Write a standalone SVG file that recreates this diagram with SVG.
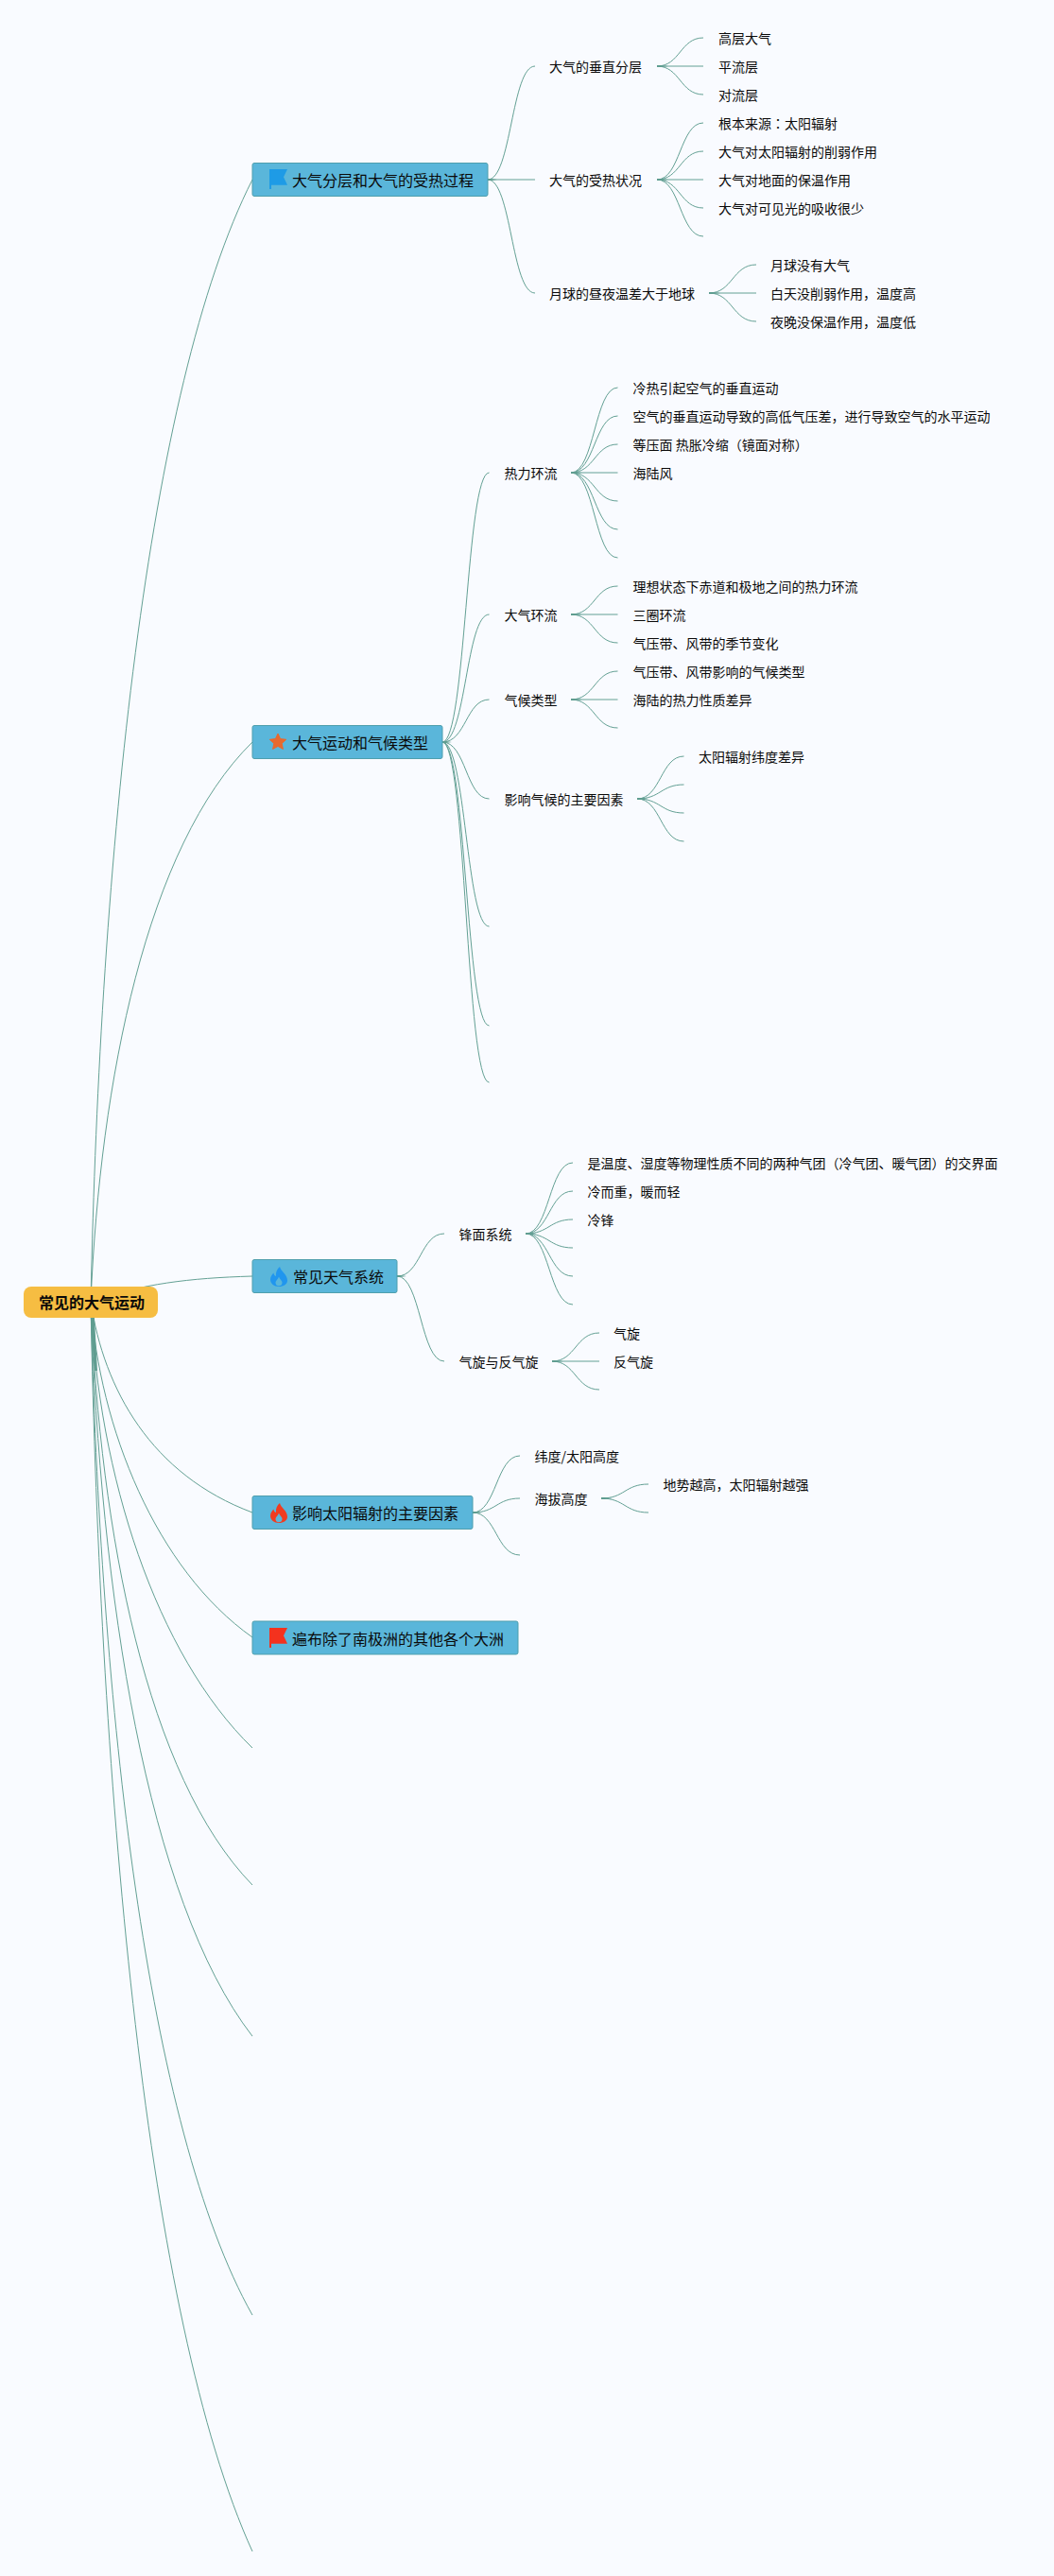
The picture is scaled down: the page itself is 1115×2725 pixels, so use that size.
<svg xmlns="http://www.w3.org/2000/svg" xmlns:xlink="http://www.w3.org/1999/xlink" width="1115" height="2725" viewBox="0 0 1115 2725">
<style>
text{font-family:"Noto Sans CJK SC","Noto Sans",sans-serif;fill:#0a0a0a;font-size:14px}
.main{font-size:16px}
.root{font-size:16px;font-weight:700}
.box{fill:#5ab6da;stroke:#4f9fad;stroke-width:1}
#connectors path{fill:none;stroke:#63a094;stroke-width:1}
#connectors path.taper{fill:#5f9d90;stroke:none}
</style>
<defs>
<path id="flame" fill-rule="evenodd" d="M296,0C297,5 304,8 304,14.500C304,18.500 300,21 295,21C290,21 286,18 286,13.500C286,10.500 288,8 289.500,6.500C289.500,8.500 290.500,9.500 292,10C291.500,6 293,2.500 296,0ZM295,10.500C296,13.500 298.500,14.500 298.500,17C298.500,19 297,20.300 295,20.300C293,20.300 291.500,19 291.500,17C291.500,14.500 294,13.500 295,10.500Z"/>
<path id="flag" d="M285,0H304L300,8.300L304,16.700H287V21H285Z"/>
</defs>
<rect width="1115" height="2725" fill="#f9fbff"/>
<g id="connectors">
<path d="M96,1377C106,908 155,411 267,190"/>
<path d="M96,1377C106,1143 155,895 267,785"/>
<path d="M96,1377C150,1358 200,1352 267,1350"/>
<path d="M96,1377C110,1470 160,1560 267,1600"/>
<path d="M96,1377C105,1510 165,1660 267,1732"/>
<path d="M96,1377C104,1560 165,1750 267,1849"/>
<path d="M96,1377C106,1621 155,1879 267,1994"/>
<path d="M96,1377C106,1684 155,2009 267,2154"/>
<path d="M96,1377C106,1800 155,2250 267,2449"/>
<path d="M96,1377C106,1899 155,2453 267,2699"/>
<path class="taper" d="M94.500,1377H99L103,1450H100Z"/>
<path class="taper" d="M94.500,1377H99L98,1361H95Z"/>
<path d="M516,190C541,190 541,70 566,70"/>
<path d="M516,190L566,190"/>
<path d="M516,190C541,190 541,310 566,310"/>
<path d="M695,70C719.500,70 719.500,40 744,40"/>
<path d="M695,70L744,70"/>
<path d="M695,70C719.500,70 719.500,100 744,100"/>
<path d="M695,190C719.500,190 719.500,130 744,130"/>
<path d="M695,190C719.500,190 719.500,160 744,160"/>
<path d="M695,190L744,190"/>
<path d="M695,190C719.500,190 719.500,220 744,220"/>
<path d="M695,190C719.500,190 719.500,250 744,250"/>
<path d="M750,310C775,310 775,280 800,280"/>
<path d="M750,310L800,310"/>
<path d="M750,310C775,310 775,340 800,340"/>
<path d="M468,785C493,785 493,500 517.500,500"/>
<path d="M468,785C493,785 493,650 517.500,650"/>
<path d="M468,785C493,785 493,740 517.500,740"/>
<path d="M468,785C493,785 493,845 517.500,845"/>
<path d="M468,785C493,785 493,980 517.500,980"/>
<path d="M468,785C493,785 493,1085 517.500,1085"/>
<path d="M468,785C493,785 493,1145 517.500,1145"/>
<path d="M604,500C629,500 629,410 653.500,410"/>
<path d="M604,500C629,500 629,440 653.500,440"/>
<path d="M604,500C629,500 629,470 653.500,470"/>
<path d="M604,500L653.500,500"/>
<path d="M604,500C629,500 629,530 653.500,530"/>
<path d="M604,500C629,500 629,560 653.500,560"/>
<path d="M604,500C629,500 629,590 653.500,590"/>
<path d="M604,650C629,650 629,620 653.500,620"/>
<path d="M604,650L653.500,650"/>
<path d="M604,650C629,650 629,680 653.500,680"/>
<path d="M604,740C629,740 629,710 653.500,710"/>
<path d="M604,740L653.500,740"/>
<path d="M604,740C629,740 629,770 653.500,770"/>
<path d="M674,845C699,845 699,800 723.500,800"/>
<path d="M674,845C699,845 699,830 723.500,830"/>
<path d="M674,845C699,845 699,860 723.500,860"/>
<path d="M674,845C699,845 699,890 723.500,890"/>
<path d="M420,1350C445,1350 445,1305 470,1305"/>
<path d="M420,1350C445,1350 445,1440 470,1440"/>
<path d="M556,1305C581,1305 581,1230 606,1230"/>
<path d="M556,1305C581,1305 581,1260 606,1260"/>
<path d="M556,1305C581,1305 581,1290 606,1290"/>
<path d="M556,1305C581,1305 581,1320 606,1320"/>
<path d="M556,1305C581,1305 581,1350 606,1350"/>
<path d="M556,1305C581,1305 581,1380 606,1380"/>
<path d="M584,1440C609,1440 609,1410 634,1410"/>
<path d="M584,1440L634,1440"/>
<path d="M584,1440C609,1440 609,1470 634,1470"/>
<path d="M500,1600C525,1600 525,1540 550,1540"/>
<path d="M500,1600C525,1600 525,1585 550,1585"/>
<path d="M500,1600C525,1600 525,1645 550,1645"/>
<path d="M636,1585C661,1585 661,1570 686,1570"/>
<path d="M636,1585C661,1585 661,1600 686,1600"/>
<path class="taper" d="M695,69H699L707,70L699,71H695Z"/>
<path class="taper" d="M695,189H699L707,190L699,191H695Z"/>
<path class="taper" d="M750,309H754L762,310L754,311H750Z"/>
<path class="taper" d="M604,499H608L616,500L608,501H604Z"/>
<path class="taper" d="M604,649H608L616,650L608,651H604Z"/>
<path class="taper" d="M604,739H608L616,740L608,741H604Z"/>
<path class="taper" d="M674,844H678L686,845L678,846H674Z"/>
<path class="taper" d="M556,1304H560L568,1305L560,1306H556Z"/>
<path class="taper" d="M584,1439H588L596,1440L588,1441H584Z"/>
<path class="taper" d="M636,1584H640L648,1585L640,1586H636Z"/>
<path class="taper" d="M516,189H519L526,190L519,191H516Z"/>
<path class="taper" d="M468,784H471L478,785L471,786H468Z"/>
<path class="taper" d="M420,1349H423L430,1350L423,1351H420Z"/>
<path class="taper" d="M500,1599H503L510,1600L503,1601H500Z"/>
</g>
<g id="root"><rect x="25" y="1361" width="142" height="33" rx="8" fill="#f6bd42"/><text class="root" x="41" y="1384">常见的大气运动</text></g>
<g id="n1"><rect class="box" x="267" y="172.500" width="249" height="35" rx="2"/><use xlink:href="#flag" href="#flag" y="179" fill="#1e9be6"/><text class="main" x="309" y="197">大气分层和大气的受热过程</text></g>
<g id="n2"><rect class="box" x="267" y="767.500" width="201" height="35" rx="2"/><path d="M294,776L296.600,781.600L302.700,782.300L298.200,786.400L299.400,792.400L294,789.400L288.600,792.400L289.800,786.400L285.300,782.300L291.400,781.600Z" fill="#e8692e" stroke="#e8692e" stroke-linejoin="round"/><text class="main" x="309" y="792">大气运动和气候类型</text></g>
<g id="n3"><rect class="box" x="267" y="1332.500" width="153" height="35" rx="2"/><use xlink:href="#flame" href="#flame" y="1340" fill="#2196ee"/><text class="main" x="310" y="1357">常见天气系统</text></g>
<g id="n4"><rect class="box" x="267" y="1582.500" width="233" height="35" rx="2"/><use xlink:href="#flame" href="#flame" y="1590" fill="#f03c20"/><text class="main" x="309" y="1607">影响太阳辐射的主要因素</text></g>
<g id="n5"><rect class="box" x="267" y="1715" width="281" height="35" rx="2"/><use xlink:href="#flag" href="#flag" y="1722" fill="#f4321e"/><text class="main" x="309" y="1739.500">遍布除了南极洲的其他各个大洲</text></g>
<g id="t1"><text x="581" y="76">大气的垂直分层</text></g>
<g id="t2"><text x="581" y="196">大气的受热状况</text></g>
<g id="t3"><text x="581" y="316">月球的昼夜温差大于地球</text></g>
<g id="t4"><text x="760" y="46">高层大气</text></g>
<g id="t5"><text x="760" y="76">平流层</text></g>
<g id="t6"><text x="760" y="106">对流层</text></g>
<g id="t7"><text x="760" y="136" style="font-family:'Noto Sans CJK TC','Noto Sans CJK SC',sans-serif">根本来源&#xFF1A;太阳辐射</text></g>
<g id="t8"><text x="760" y="166">大气对太阳辐射的削弱作用</text></g>
<g id="t9"><text x="760" y="196">大气对地面的保温作用</text></g>
<g id="t10"><text x="760" y="226">大气对可见光的吸收很少</text></g>
<g id="t11"><text x="815" y="286">月球没有大气</text></g>
<g id="t12"><text x="815" y="316">白天没削弱作用&#xFF0C;温度高</text></g>
<g id="t13"><text x="815" y="346">夜晚没保温作用&#xFF0C;温度低</text></g>
<g id="t14"><text x="533.500" y="506">热力环流</text></g>
<g id="t15"><text x="669.500" y="416">冷热引起空气的垂直运动</text></g>
<g id="t16"><text x="669.500" y="446">空气的垂直运动导致的高低气压差&#xFF0C;进行导致空气的水平运动</text></g>
<g id="t17"><text x="669.500" y="476">等压面 热胀冷缩&#xFF08;镜面对称&#xFF09;</text></g>
<g id="t18"><text x="669.500" y="506">海陆风</text></g>
<g id="t19"><text x="533.500" y="656">大气环流</text></g>
<g id="t20"><text x="669.500" y="626">理想状态下赤道和极地之间的热力环流</text></g>
<g id="t21"><text x="669.500" y="656">三圈环流</text></g>
<g id="t22"><text x="669.500" y="686">气压带、风带的季节变化</text></g>
<g id="t23"><text x="533.500" y="746">气候类型</text></g>
<g id="t24"><text x="669.500" y="716">气压带、风带影响的气候类型</text></g>
<g id="t25"><text x="669.500" y="746">海陆的热力性质差异</text></g>
<g id="t26"><text x="533.500" y="851">影响气候的主要因素</text></g>
<g id="t27"><text x="739" y="806">太阳辐射纬度差异</text></g>
<g id="t28"><text x="485.500" y="1311">锋面系统</text></g>
<g id="t29"><text x="621.500" y="1236">是温度、湿度等物理性质不同的两种气团&#xFF08;冷气团、暖气团&#xFF09;的交界面</text></g>
<g id="t30"><text x="621.500" y="1266">冷而重&#xFF0C;暖而轻</text></g>
<g id="t31"><text x="621.500" y="1296">冷锋</text></g>
<g id="t32"><text x="485.500" y="1446">气旋与反气旋</text></g>
<g id="t33"><text x="649" y="1416">气旋</text></g>
<g id="t34"><text x="649" y="1446">反气旋</text></g>
<g id="t35"><text x="565.500" y="1546">纬度/太阳高度</text></g>
<g id="t36"><text x="565.500" y="1591">海拔高度</text></g>
<g id="t37"><text x="701.500" y="1576">地势越高&#xFF0C;太阳辐射越强</text></g>
</svg>
